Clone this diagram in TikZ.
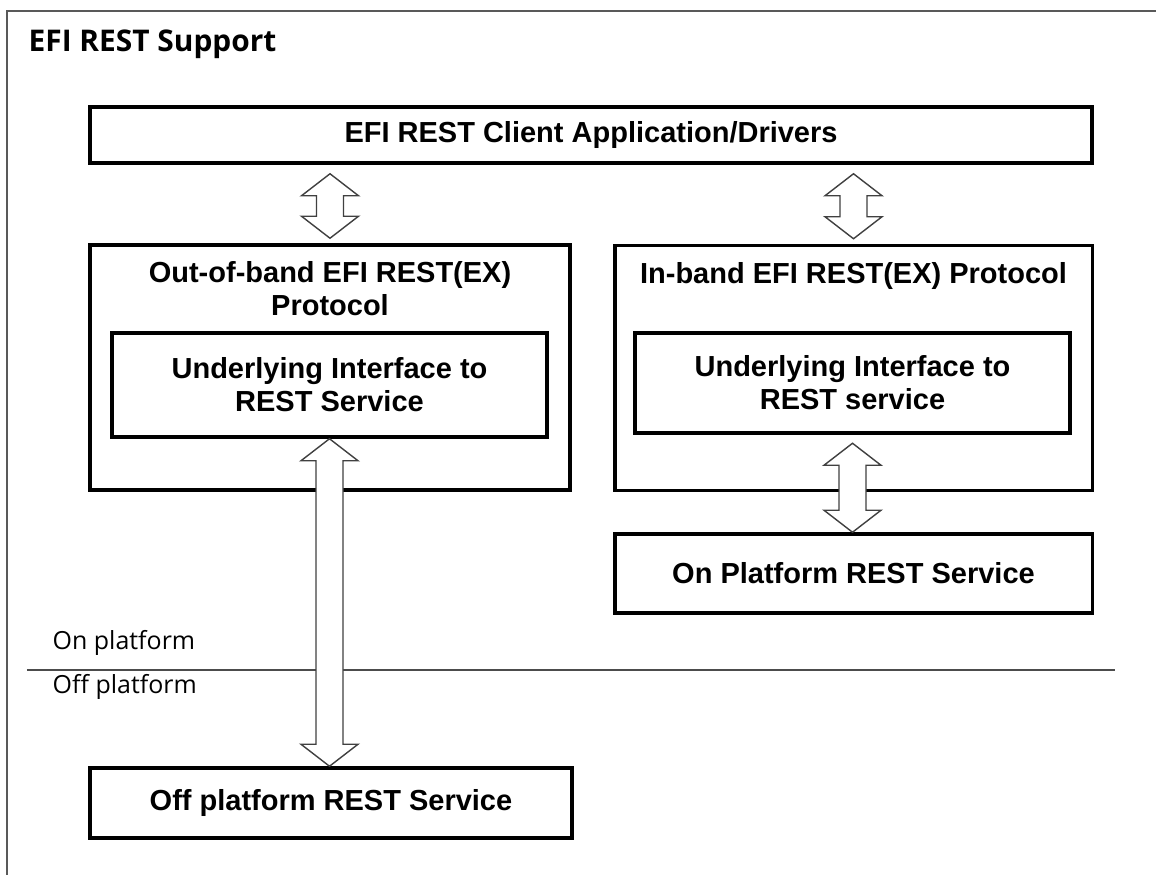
\documentclass[tikz,border=0pt]{standalone}
\usepackage{fontspec}
\setmainfont{Liberation Sans}
\newfontfamily\labelfont{Open Sans}
\usetikzlibrary{positioning,calc}

% freccia doppia "vuota" tra due punti sulla stessa verticale
\newcommand{\dualarrow}[2]{%
  \draw[twoway] let \p1=(#1), \p2=(#2) in
    (\x1,\y1) -- ({\x1+0.57cm},{\y1-0.44cm}) -- ({\x1+0.27cm},{\y1-0.44cm})
    -- ({\x1+0.27cm},{\y2+0.44cm}) -- ({\x1+0.57cm},{\y2+0.44cm})
    -- (\x1,\y2) -- ({\x1-0.57cm},{\y2+0.44cm}) -- ({\x1-0.27cm},{\y2+0.44cm})
    -- ({\x1-0.27cm},{\y1-0.44cm}) -- ({\x1-0.57cm},{\y1-0.44cm}) -- cycle;
}

\begin{document}
\begin{tikzpicture}[thick]
	% Stili comuni
	\tikzset{
		block/.style={
			draw,
			fill=white,
			line width=2pt,
			inner sep=0pt,
			align=center,
			font=\bfseries\fontsize{16.5}{18.8}\selectfont
		},
		group/.style={
			block,
			minimum width=9.55cm,
			minimum height=4.9cm
		},
		grouptitle/.style={
			anchor=north,
			yshift=-0.36cm,
			inner sep=0pt,
			align=center,
			font=\bfseries\fontsize{16.5}{18.8}\selectfont
		},
		twoway/.style={
			draw=black!75,
			fill=white,
			line width=0.8pt,
			line join=miter
		},
		side/.style={
			inner sep=0pt,
			anchor=base west,
			font=\labelfont\fontsize{14.2}{16}\selectfont
		}
	}
	\useasboundingbox (0,0) rectangle (23.12,-17.5);

	% Cornice esterna (tagliata a destra e in basso)
	\draw[black!65, line width=1.1pt] (0.14,-17.5) -- (0.14,-0.22) -- (23.12,-0.22);
	\node[inner sep=0pt, anchor=base west, font=\labelfont\bfseries\fontsize{17}{19}\selectfont] (title) at (0.56,-1.04) {EFI REST Support};

	% Client in alto
	\node[block, minimum width=20.04cm, minimum height=1.12cm] (client) at (11.82,-2.70) {EFI REST Client Application/Drivers};

	% Protocolli
	\node[group, minimum width=9.6cm, label={[grouptitle]north:{Out-of-band EFI REST(EX)\\Protocol}}] (outband) at (6.60,-7.35) {};
	\node[block, minimum width=8.7cm, minimum height=2.08cm] (outiface) at (6.59,-7.70) {Underlying Interface to\\REST Service};

	\node[group, label={[grouptitle]north:{In-band EFI REST(EX) Protocol}}] (inband) at (17.07,-7.36) {};
	\node[block, minimum width=8.7cm, minimum height=2.0cm] (iniface) at (17.05,-7.66) {Underlying Interface to\\REST service};

	% Servizi REST
	\node[block, minimum width=9.55cm, minimum height=1.58cm] (onsvc) at (17.07,-11.47) {On Platform REST Service};
	\node[block, minimum width=9.64cm, minimum height=1.4cm] (offsvc) at (6.62,-16.06) {Off platform REST Service};

	% Confine piattaforma
	\coordinate (sepL) at (0.54,-13.4);
	\coordinate (sepR) at (22.3,-13.4);
	\draw[black!70, line width=1.1pt] (sepL) -- (sepR);
	\node[side] (onlabel) at (1.04,-12.98) {On platform};
	\node[side] (offlabel) at (1.04,-13.86) {Off platform};

	% Frecce doppie
	\coordinate (a1) at ($(outband.north |- client.south)+(0,-0.18)$);
	\coordinate (b1) at ($(outband.north)+(0,0.10)$);
	\coordinate (a2) at ($(inband.north |- client.south)+(0,-0.18)$);
	\coordinate (b2) at ($(inband.north)+(0,0.10)$);
	\coordinate (a4) at ($(iniface.south)+(0,-0.17)$);
	\dualarrow{a1}{b1}
	\dualarrow{a2}{b2}
	\dualarrow{outiface.south}{offsvc.north}
	\dualarrow{a4}{onsvc.north}
\end{tikzpicture}
\end{document}
